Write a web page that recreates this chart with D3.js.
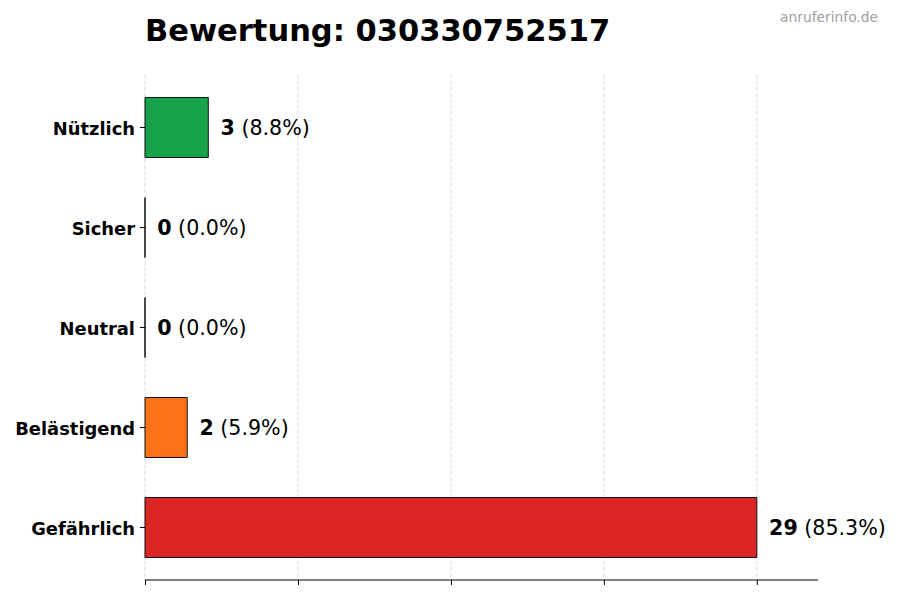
<!DOCTYPE html>
<html>
<head>
<meta charset="utf-8">
<script src="https://cdn.jsdelivr.net/npm/d3@7"></script>
<style>
  html, body { margin: 0; padding: 0; background: #fff; }
  svg { display: block; font-family: "DejaVu Sans", sans-serif; }
</style>
</head>
<body>
<div id="chart"></div>
<script>
// data
const categories = ['Nützlich', 'Sicher', 'Neutral', 'Belästigend', 'Gefährlich'];
const counts = [3, 0, 0, 2, 29];
const percents = ['8.8%', '0.0%', '0.0%', '5.9%', '85.3%'];
const barColors = ['#16a34a', '#16a34a', '#6b7280', '#f97316', '#dc2626'];
const titleText = 'Bewertung: 030330752517';
const watermark = 'anruferinfo.de';

const width = 900, height = 600;
const margin = { top: 75, right: 82, bottom: 20, left: 145 };

const svg = d3.select('#chart').append('svg')
  .attr('width', width)
  .attr('height', height);

const maxVal = d3.max(counts);
const x = d3.scaleLinear()
  .domain([0, maxVal * 1.1])
  .range([margin.left, width - margin.right]);

const y = d3.scaleBand()
  .domain(categories)
  .range([margin.top, height - margin.bottom])
  .paddingInner(0.4)
  .paddingOuter(0.225);

const tickVals = d3.range(5).map(i => maxVal * i / 4);

// grid
svg.append('g')
  .selectAll('line')
  .data(tickVals)
  .join('line')
  .attr('x1', d => x(d)).attr('x2', d => x(d))
  .attr('y1', margin.top).attr('y2', height - margin.bottom)
  .attr('stroke', '#d4d4d4')
  .attr('stroke-width', 0.8)
  .attr('stroke-dasharray', '4,2');

// bars (paths so that zero-width bars still show their edge)
const data = categories.map((c, i) => ({ cat: c, value: counts[i], pct: percents[i], color: barColors[i] }));

svg.append('g')
  .selectAll('path')
  .data(data)
  .join('path')
  .attr('d', d => {
    const x0 = x(0), w = x(d.value) - x(0), y0 = y(d.cat), h = y.bandwidth();
    return `M${x0},${y0}h${w}v${h}h${-w}Z`;
  })
  .attr('fill', d => d.color)
  .attr('stroke', '#111')
  .attr('stroke-width', 1);

// value labels
const labels = svg.append('g')
  .selectAll('text')
  .data(data)
  .join('text')
  .attr('x', d => x(d.value + maxVal * 0.02))
  .attr('y', d => y(d.cat) + y.bandwidth() / 2)
  .attr('dy', '0.36em')
  .attr('font-size', '20.6px')
  .attr('fill', '#000');
labels.append('tspan').attr('font-weight', 'bold').text(d => d.value);
labels.append('tspan').text(d => ` (${d.pct})`);

// x axis (no labels)
const xAxis = svg.append('g')
  .attr('transform', `translate(0,${height - margin.bottom})`)
  .call(d3.axisBottom(x).tickValues(tickVals).tickSize(5).tickFormat(''));
xAxis.select('.domain').attr('stroke', '#000').attr('stroke-width', 1.1)
  .attr('d', `M${x(0)},0H${width - margin.right}`);
xAxis.selectAll('.tick line').attr('stroke', '#000').attr('stroke-width', 1);

// y axis: ticks and labels, no spine
const yAxis = svg.append('g')
  .attr('transform', `translate(${margin.left},0)`)
  .call(d3.axisLeft(y).tickSize(5).tickPadding(5));
yAxis.select('.domain').remove();
yAxis.selectAll('.tick line').attr('stroke', '#000');
yAxis.selectAll('.tick text')
  .attr('dy', '0.42em')
  .attr('font-family', '"DejaVu Sans", sans-serif')
  .attr('font-size', '17.9px')
  .attr('font-weight', 'bold')
  .attr('fill', '#000');

// title
svg.append('text')
  .attr('x', margin.left)
  .attr('y', 41)
  .attr('font-size', '30.5px')
  .attr('font-weight', 'bold')
  .text(titleText);

// watermark
svg.append('text')
  .attr('x', 878)
  .attr('y', 22)
  .attr('text-anchor', 'end')
  .attr('font-size', '13.8px')
  .attr('fill', '#a0a0a0')
  .text(watermark);
</script>
</body>
</html>
